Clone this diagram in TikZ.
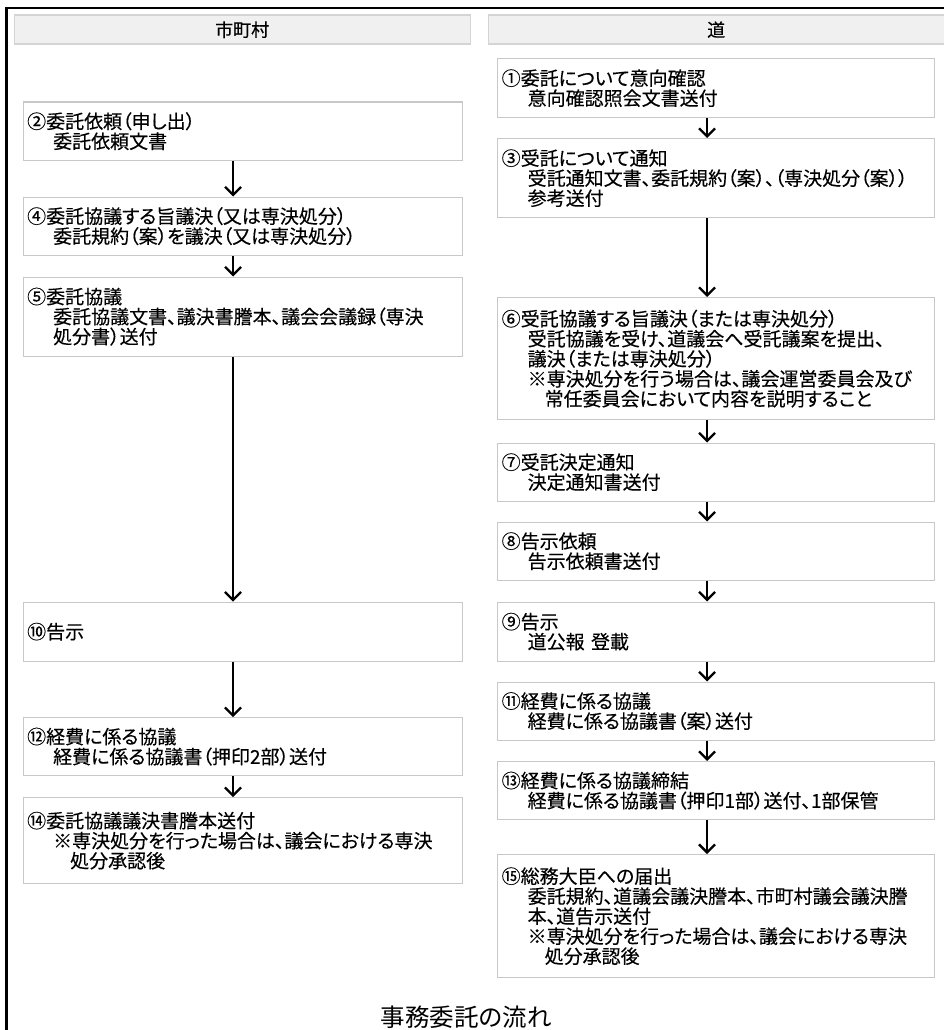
\documentclass[tikz,border=0pt]{standalone}
\usepackage{fontspec}
\setmainfont{Noto Sans CJK JP}[RawFeature=+palt, FakeBold=0.3]
\usepackage{tikz}
\usetikzlibrary{arrows.meta}

\definecolor{boxgray}{HTML}{C8C8C8}
\definecolor{headfill}{HTML}{F0F0F0}
\definecolor{headline}{HTML}{D4D4D4}

\newcommand{\ind}{\hspace*{26pt}}
\newcommand{\indd}{\hspace*{43pt}}

\begin{document}
\begin{tikzpicture}[x=1pt, y=-1pt,
    stepbox/.style={draw=boxgray, line width=1.3pt, fill=white, anchor=north west,
      inner xsep=4pt, inner ysep=0pt, align=left,
      font=\fontsize{19pt}{20pt}\selectfont},
    lbox/.style={stepbox, text width=431pt},
    rbox/.style={stepbox, text width=429pt},
    headbox/.style={draw=headline, line width=1.3pt, fill=headfill, anchor=north west,
      minimum height=29pt, inner sep=0pt, font=\fontsize{18pt}{20pt}\selectfont},
    flow/.style={line width=2.3pt, -{Straight Barb[length=8pt, width=16pt]}}]
      \useasboundingbox (0,0) rectangle (944,1030);
      \clip (0,0) rectangle (944,1030);
      \draw[line width=2.4pt] (6.3,1040) -- (6.3,8) -- (950,8);
      \node[headbox, minimum width=456pt] (hl) at (13.5,14.5) {市町村};
      \node[headbox, minimum width=456pt] (hr) at (487.5,14.5) {道};

      \node[lbox, minimum height=58pt] (n2) at (22.5,101.5)
        {②委託依頼（申し出）\\ \ind 委託依頼文書};
      \node[lbox, minimum height=58pt] (n4) at (22.5,196.5)
        {④委託協議する旨議決（又は専決処分）\\ \ind 委託規約（案）を議決（又は専決処分）};
      \node[lbox, minimum height=79pt] (n5) at (22.5,276.5)
        {⑤委託協議\\ \ind 委託協議文書、議決書謄本、議会会議録（専決\\ \ind 処分書）送付};
      \node[lbox, minimum height=59pt] (n10) at (22.5,601.5) {⑩告示};
      \node[lbox, minimum height=58pt] (n12) at (22.5,717) 
        {⑫経費に係る協議\\ \ind 経費に係る協議書（押印2部）送付};
      \node[lbox, minimum height=86pt] (n14) at (22.5,797)
        {⑭委託協議議決書謄本送付\\ \ind ※専決処分を行った場合は、議会における専決\\ \indd 処分承認後};

      \node[rbox, minimum height=59pt] (n1) at (497,58)
        {①委託について意向確認\\ \ind 意向確認照会文書送付};
      \node[rbox, minimum height=79pt] (n3) at (497,138)
        {③受託について通知\\ \ind 受託通知文書、委託規約（案）、（専決処分（案））\\ \ind 参考送付};
      \node[rbox, minimum height=122pt] (n6) at (497,297)
        {⑥受託協議する旨議決（または専決処分）\\ \ind 受託協議を受け、道議会へ受託議案を提出、\\ \ind 議決（または専決処分）\\
         \ind ※専決処分を行う場合は、議会運営委員会及び\\ \indd 常任委員会において内容を説明すること};
      \node[rbox, minimum height=58pt] (n7) at (497,442.5)
        {⑦受託決定通知\\ \ind 決定通知書送付};
      \node[rbox, minimum height=58pt] (n8) at (497,521.5)
        {⑧告示依頼\\ \ind 告示依頼書送付};
      \node[rbox, minimum height=59pt] (n9) at (497,601.5)
        {⑨告示\\ \ind 道公報 登載};
      \node[rbox, minimum height=58pt] (n11) at (497,681.5)
        {⑪経費に係る協議\\ \ind 経費に係る協議書（案）送付};
      \node[rbox, minimum height=58pt] (n13) at (497,761)
        {⑬経費に係る協議締結\\ \ind 経費に係る協議書（押印1部）送付、1部保管};
      \node[rbox, minimum height=123pt] (n15) at (497,854)
        {⑮総務大臣への届出\\ \ind 委託規約、道議会議決謄本、市町村議会議決謄\\ \ind 本、道告示送付\\
         \ind ※専決処分を行った場合は、議会における専決\\ \indd 処分承認後};

      \draw[flow] (n2.south -| 233,0) -- (n4.north -| 233,0);
      \draw[flow] (n4.south -| 233,0) -- (n5.north -| 233,0);
      \draw[flow] (n5.south -| 233,0) -- (n10.north -| 233,0);
      \draw[flow] (n10.south -| 233,0) -- (n12.north -| 233,0);
      \draw[flow] (n12.south -| 233,0) -- (n14.north -| 233,0);

      \draw[flow] (n1.south -| 707,0) -- (n3.north -| 707,0);
      \draw[flow] (n3.south -| 707,0) -- (n6.north -| 707,0);
      \draw[flow] (n6.south -| 707,0) -- (n7.north -| 707,0);
      \draw[flow] (n7.south -| 707,0) -- (n8.north -| 707,0);
      \draw[flow] (n8.south -| 707,0) -- (n9.north -| 707,0);
      \draw[flow] (n9.south -| 707,0) -- (n11.north -| 707,0);
      \draw[flow] (n11.south -| 707,0) -- (n13.north -| 707,0);
      \draw[flow] (n13.south -| 707,0) -- (n15.north -| 707,0);

      \node[font=\fontsize{24.5pt}{26pt}\selectfont\addfontfeature{FakeBold=0}] (title) at (466,1017) {事務委託の流れ};
    \end{tikzpicture}
\end{document}
